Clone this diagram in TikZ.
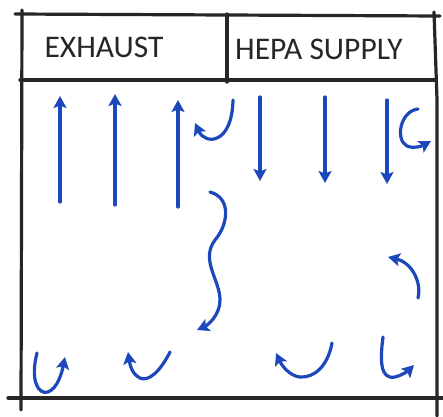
\documentclass[tikz,border=0pt]{standalone}
\usepackage{fontspec}
\setmainfont{Carlito}
\usepackage{xcolor}
\definecolor{airblue}{RGB}{28,72,188}
\usetikzlibrary{arrows.meta}

\begin{document}
\begin{tikzpicture}[x=1pt, y=-1pt,
  wall/.style={line width=3.2pt, black!85, line cap=round},
  flow/.style={line width=3.2pt, airblue, line cap=round,
    -{Stealth[length=12pt, width=13pt, inset=2.5pt]}},
  title/.style={font=\fontsize{31.5}{33}\selectfont, text=black!85}
]
  \useasboundingbox (0,0) rectangle (443,416);

  % room outline and ducts
  \draw[wall] (15,14) -- (440,16);
  \draw[wall] (20,80) -- (436,80);
  \draw[wall] (227,14) -- (227,82);
  \draw[wall] (22,10) -- (21,410);
  \draw[wall] (434,12) -- (437,100) -- (437,416);
  \draw[wall] (8,398) -- (443,398);

  \node[title] (exhaust) at (104,47) {EXHAUST};
  \node[title] (hepa)    at (319,49) {HEPA SUPPLY};

  % air going up to the exhaust
  \draw[flow] (60,202) -- (60,96);
  \draw[flow] (115,205) -- (115,94);
  \draw[flow] (178,207) -- (178,100);

  % air coming down from the supply
  \draw[flow] (260,97) -- (260,181);
  \draw[flow] (325,97) -- (325,183);
  \draw[flow] (387,100) -- (387,184);

  % eddies
  \draw[flow] (233,100) .. controls (232,145) and (205,145) .. (195,123);
  \draw[flow] (418,109) .. controls (400,111) and (395,140) .. (407,146)
    .. controls (414,149) and (422,146) .. (431,141);
  \draw[flow] (210,192) .. controls (232,198) and (228,225) .. (215,240)
    .. controls (200,260) and (220,280) .. (220,300)
    .. controls (220,315) and (208,325) .. (197,330);
  \draw[flow] (418,298) .. controls (422,280) and (410,262) .. (388,257);
  \draw[flow] (37,353) .. controls (30,380) and (38,395) .. (48,392)
    .. controls (58,388) and (62,372) .. (65,357);
  \draw[flow] (170,352) .. controls (160,372) and (148,382) .. (140,378)
    .. controls (132,374) and (130,365) .. (128,352);
  \draw[flow] (332,343) .. controls (328,365) and (315,378) .. (300,377)
    .. controls (290,376) and (282,366) .. (276,353);
  \draw[flow] (383,337) .. controls (380,360) and (380,380) .. (395,377)
    .. controls (403,375) and (409,370) .. (414,365);
\end{tikzpicture}
\end{document}
